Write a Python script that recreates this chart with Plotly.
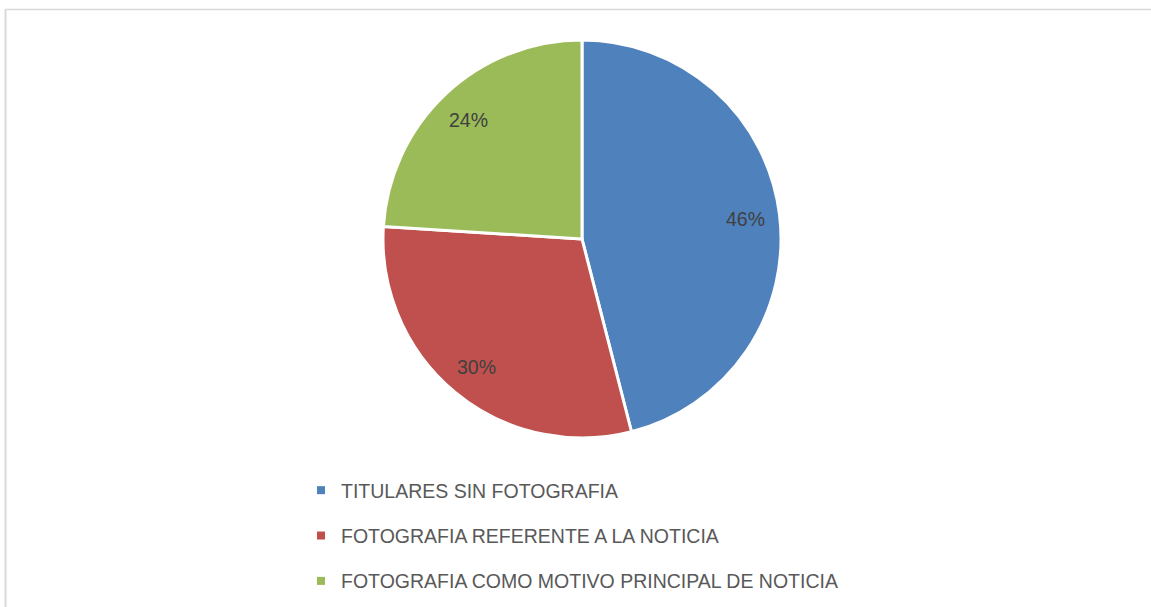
import math
import plotly.graph_objects as go

categories = ["TITULARES SIN FOTOGRAFIA",
              "FOTOGRAFIA REFERENTE A LA NOTICIA",
              "FOTOGRAFIA COMO MOTIVO PRINCIPAL DE NOTICIA"]
values = [46, 30, 24]
colors = ["#4F81BD", "#C0504D", "#9BBB59"]

W, H = 1151, 607
# pie box in pixels
PX0, PX1, PY0, PY1 = 383, 781, 40, 438
CX, CY = (PX0 + PX1) / 2, (PY0 + PY1) / 2
R = (PX1 - PX0) / 2

fig = go.Figure()
fig.add_trace(go.Pie(
    labels=categories, values=values, sort=False, direction="clockwise", rotation=0,
    marker=dict(colors=colors, line=dict(color="white", width=3)),
    textinfo="none", showlegend=False, hoverinfo="label+percent",
    domain=dict(x=[PX0 / W, PX1 / W], y=[1 - PY1 / H, 1 - PY0 / H]),
))

# percentage labels placed along each slice's mid-angle
total = sum(values)
annotations = []
cum = 0
for v in values:
    mid = (cum + v / 2) / total * 2 * math.pi
    cum += v
    lx = CX + 0.83 * R * math.sin(mid)
    ly = CY - 0.83 * R * math.cos(mid)
    annotations.append(dict(
        x=lx / W, y=1 - (ly + 1) / H, xref="paper", yref="paper",
        text=f"{round(v / total * 100)}%", showarrow=False,
        xanchor="center", yanchor="middle",
        font=dict(family="Liberation Sans", size=19.5, color="#404040"),
    ))

for name, col in zip(categories, colors):
    fig.add_trace(go.Scatter(
        x=[None], y=[None], mode="markers", name=name, legendgroup=name,
        marker=dict(symbol="square", size=8, color=col),
    ))

fig.update_layout(
    width=W, height=H,
    margin=dict(l=0, r=0, t=0, b=0),
    paper_bgcolor="white", plot_bgcolor="white",
    xaxis=dict(visible=False), yaxis=dict(visible=False),
    legend=dict(x=301 / W, xanchor="left", y=1 - 471 / H, yanchor="top",
                font=dict(family="Liberation Sans", size=19.5, color="#595959"),
                tracegroupgap=17, itemclick=False, bgcolor="rgba(0,0,0,0)"),
    annotations=annotations,
    shapes=[
        dict(type="line", xref="paper", yref="paper", x0=5 / W, x1=1, y0=1 - 9.5 / H, y1=1 - 9.5 / H,
             line=dict(color="#D9D9D9", width=1.5)),
        dict(type="line", xref="paper", yref="paper", x0=5.5 / W, x1=5.5 / W, y0=0, y1=1 - 9 / H,
             line=dict(color="#D9D9D9", width=2)),
    ],
)

fig.write_html("out.html",
               config={"displayModeBar": False},
               post_script="document.body.style.margin='0';document.body.style.overflow='hidden';")
